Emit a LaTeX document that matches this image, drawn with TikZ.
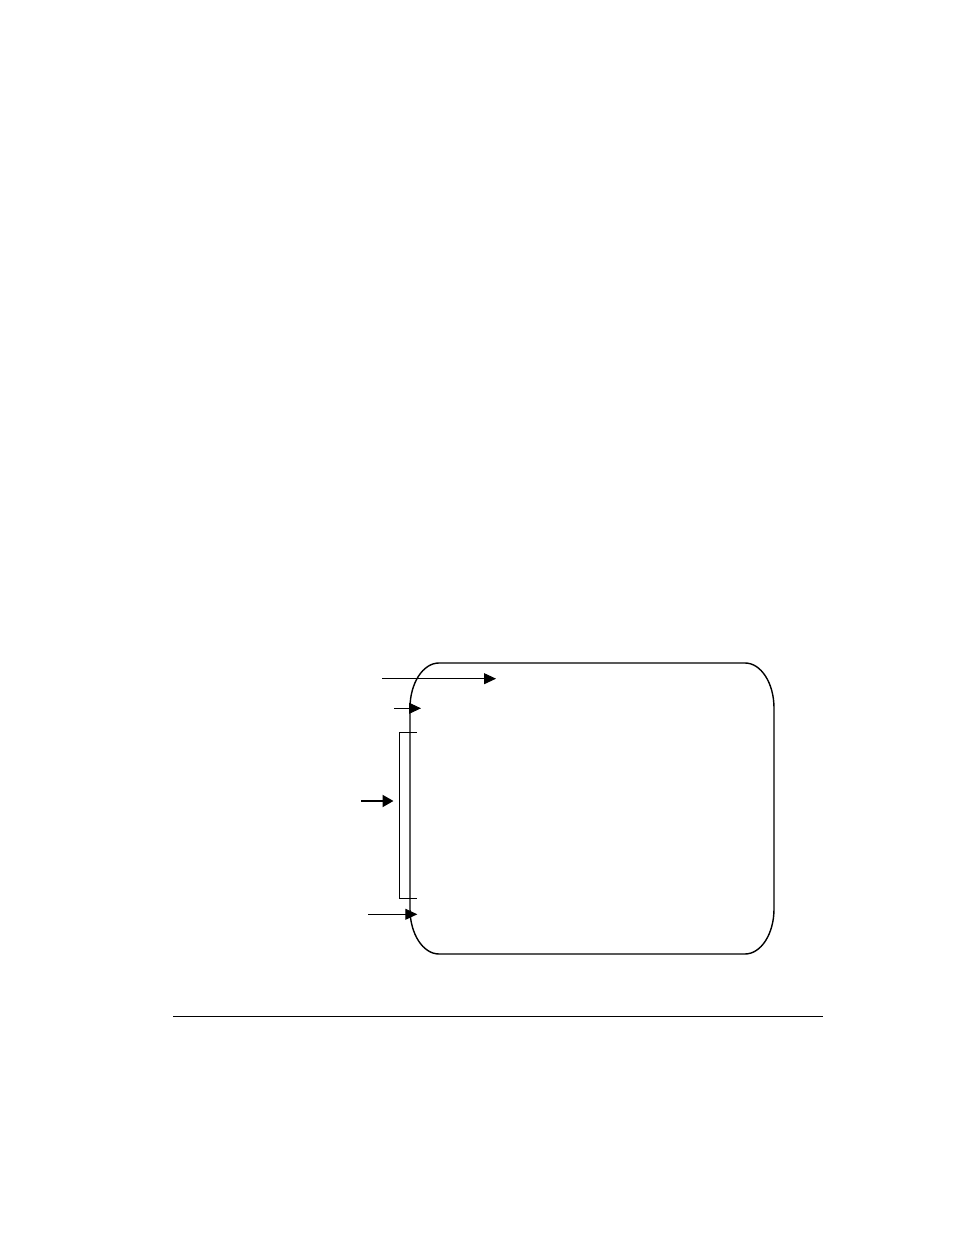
\documentclass[tikz,border=0pt]{standalone}
\usetikzlibrary{arrows.meta}
\begin{document}
\begin{tikzpicture}[x=1pt,y=1pt,
  boxline/.style={line width=1.4pt},
  thinline/.style={line width=0.8pt},
  arr/.style={line width=1pt,-{Triangle[length=12pt,width=11pt]}},
  thickarr/.style={line width=2pt,-{Triangle[length=11pt,width=12pt]}},
  rule/.style={line width=1.2pt}]
\useasboundingbox (0,0) rectangle (954,1235);
% rounded frame
\draw[boxline] (439,572) -- (745,572)
  arc[start angle=90,end angle=0,x radius=29,y radius=45] -- (774,326)
  arc[start angle=0,end angle=-90,x radius=29,y radius=45] -- (439,281)
  arc[start angle=270,end angle=180,x radius=29,y radius=45] -- (410,527)
  arc[start angle=180,end angle=90,x radius=29,y radius=45] -- cycle;
% coordinates
\coordinate (a1s) at (382,556.3);
\coordinate (a1e) at (496,556.3);
\coordinate (a2s) at (394,526.7);
\coordinate (a2e) at (421,526.7);
\coordinate (a3s) at (361,434);
\coordinate (a3e) at (393.5,434);
\coordinate (a4s) at (368.3,320.7);
\coordinate (a4e) at (417.3,320.7);
\coordinate (bt) at (416.7,502.7);
\coordinate (bb) at (416.7,337);
\coordinate (ls) at (173,218.7);
\coordinate (le) at (822.7,218.7);
% arrows
\draw[arr] (a1s) -- (a1e);
\draw[arr] (a2s) -- (a2e);
\draw[thickarr] (a3s) -- (a3e);
\draw[arr] (a4s) -- (a4e);
% bracket
\draw[thinline] (bt) -- (399.3,502.7) -- (399.3,337) -- (bb);
% bottom rule
\draw[rule] (ls) -- (le);
\end{tikzpicture}
\end{document}
